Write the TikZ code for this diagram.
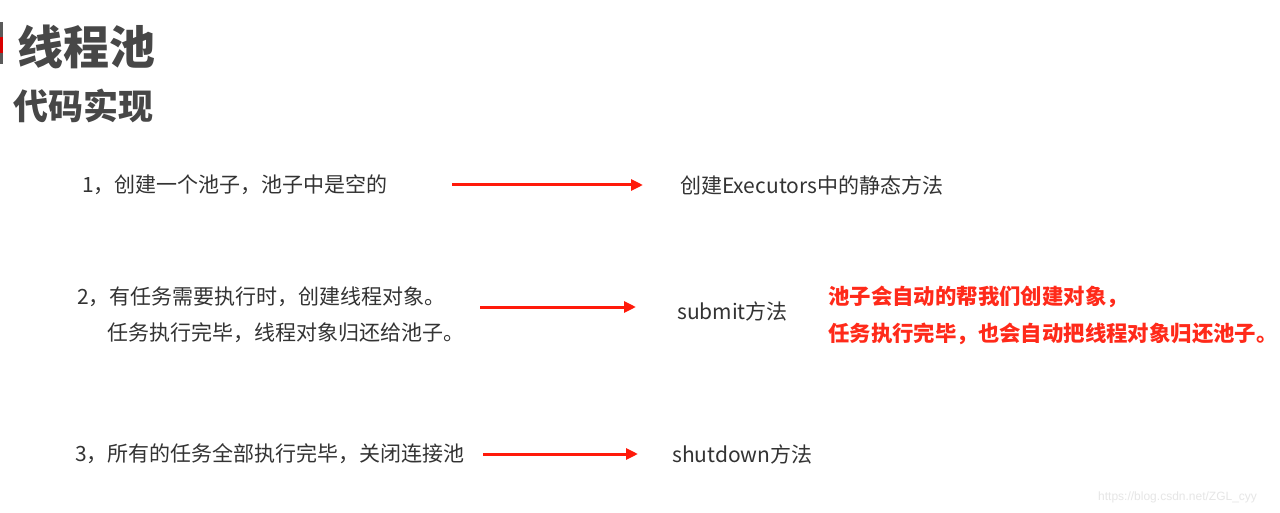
\documentclass[tikz,border=0pt]{standalone}
\usepackage{fontspec}
\setmainfont{Noto Sans CJK SC}
\newfontfamily\wmfont{Liberation Sans}
\usepackage{tikz}
\usetikzlibrary{positioning,arrows.meta}
\definecolor{txtgray}{HTML}{333333}
\definecolor{titlegray}{HTML}{474747}
\definecolor{arrred}{HTML}{FF1A0A}
\definecolor{notered}{HTML}{FF2A1A}
\definecolor{markgray}{HTML}{5A5A5A}
\definecolor{wmgray}{HTML}{E6E6E6}

\begin{document}
\begin{tikzpicture}[x=1pt,y=-1pt,>={Triangle[length=12pt,width=11pt]},
    txt/.style={anchor=west,inner sep=0pt,text=txtgray,font=\fontsize{21pt}{24pt}\selectfont},
    notetxt/.style={anchor=west,inner sep=0pt,text=notered,font=\fontsize{21.4pt}{26pt}\selectfont\bfseries},
    flow/.style={->,arrred,line width=3pt}]
            \useasboundingbox[fill=white] (0,0) rectangle (1280,513);
            % left marker
            \fill[markgray] (0,22) rectangle (3,64);
            \fill[red!85!black] (0,37) rectangle (3,53);
            % headings
            \node[anchor=west,inner sep=0pt,text=titlegray,font=\fontsize{46pt}{50pt}\selectfont\bfseries] (title) at (17,47) {线程池};
            \node[anchor=west,inner sep=0pt,text=titlegray,font=\fontsize{35pt}{40pt}\selectfont\bfseries] (sub) at (13,106) {代码实现};
            % step 1
            \node[txt] (s1) at (82,185) {1，创建一个池子，池子中是空的};
            \node[txt] (m1) at (680,185) {创建Executors中的静态方法};
            \coordinate (a1s) at (452,185);
            \coordinate (a1e) at (643,185);
            \draw[flow] (a1s) -- (a1e);
            % step 2
            \node[txt] (s2) at (77,297) {2，有任务需要执行时，创建线程对象。};
            \node[txt] (s2b) at (107,333) {任务执行完毕，线程对象归还给池子。};
            \node[txt] (m2) at (677,311) {submit方法};
            \coordinate (a2s) at (480,307);
            \coordinate (a2e) at (636,307);
            \draw[flow] (a2s) -- (a2e);
            \node[notetxt] (n1) at (828,297) {池子会自动的帮我们创建对象，};
            \node[notetxt] (n2) at (828,334) {任务执行完毕，也会自动把线程对象归还池子。};
            % step 3
            \node[txt] (s3) at (75,454) {3，所有的任务全部执行完毕，关闭连接池};
            \node[txt] (m3) at (672,454) {shutdown方法};
            \coordinate (a3s) at (483,454);
            \coordinate (a3e) at (638,454);
            \draw[flow] (a3s) -- (a3e);
            % watermark
            \node[anchor=west,inner sep=0pt,text=wmgray,font=\wmfont\fontsize{12pt}{14pt}\selectfont] (wm) at (1098,497) {https://blog.csdn.net/ZGL\_cyy};
        \end{tikzpicture}
\end{document}
